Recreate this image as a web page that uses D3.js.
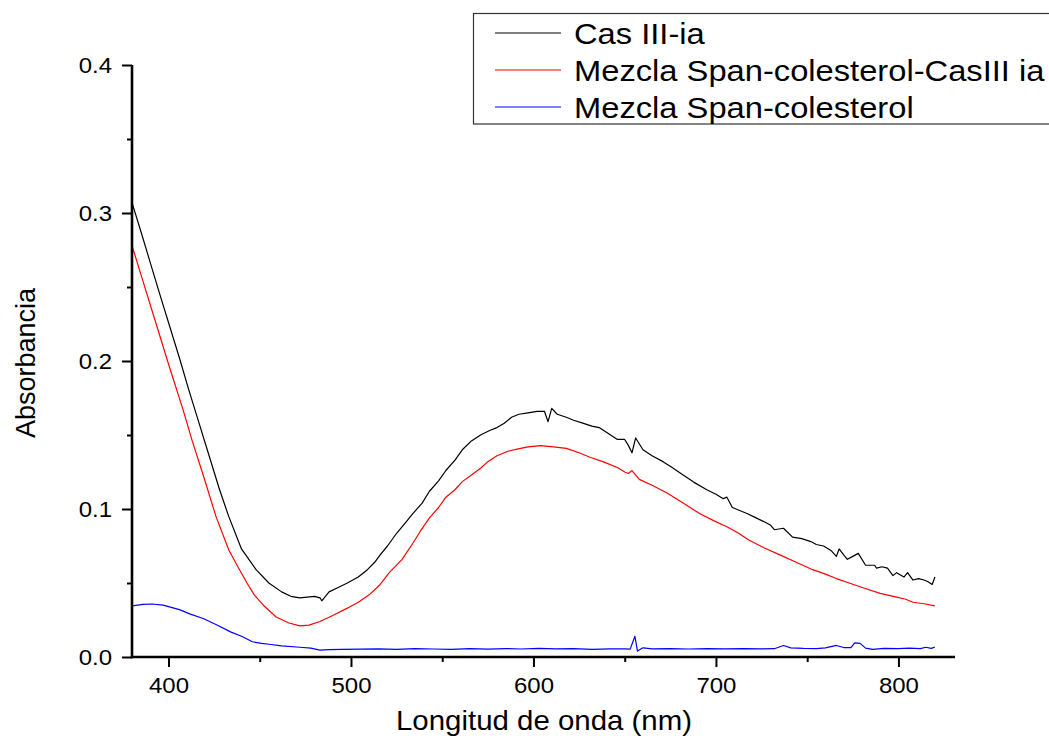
<!DOCTYPE html>
<html>
<head>
<meta charset="utf-8">
<script src="https://cdn.jsdelivr.net/npm/d3@7"></script>
<style>
  html, body { margin: 0; padding: 0; background: #fff; }
  svg { display: block; font-family: "Liberation Sans", Arial, sans-serif; }
</style>
</head>
<body>
<svg id="chart" width="1049" height="740"></svg>
<script>
// ---- Data ----
const seriesNames = ["Cas III-ia", "Mezcla Span-colesterol-CasIII ia", "Mezcla Span-colesterol"];
const seriesColors = ["#000000", "#ff0000", "#0000ff"];

const casWl = [380,385,390,395,400,406,411,417,422,428,433,440,448,455,462,467,472,476,480,483,484,486,488,493,498,504,509,513,516,520,525,530,534,539,543,548,552,557,561,566,571,576,580,584,588,592,597,602,606,608,610,613,618,622,627,632,636,641,646,650,652,654,656,660,665,671,676,682,688,695,700,704,706,709,713,717,722,727,730,732,737,742,747,752,755,759,763,766,767.5,770,772,775,778,782,787,788,791,794,797,799,803,805,808,811,814,816,818.5,820];
const casAbs = [0.307,0.287,0.2665,0.246,0.226,0.202,0.181,0.157,0.137,0.113,0.095,0.073,0.059,0.050,0.044,0.041,0.040,0.0405,0.041,0.040,0.038,0.041,0.044,0.047,0.050,0.054,0.059,0.064,0.069,0.075,0.0836,0.091,0.097,0.104,0.112,0.119,0.126,0.133,0.140,0.146,0.150,0.153,0.155,0.158,0.162,0.164,0.165,0.166,0.166,0.159,0.168,0.164,0.162,0.160,0.158,0.156,0.155,0.151,0.147,0.147,0.143,0.138,0.148,0.140,0.136,0.132,0.128,0.123,0.118,0.113,0.110,0.107,0.108,0.101,0.099,0.097,0.094,0.091,0.089,0.086,0.087,0.081,0.080,0.078,0.076,0.075,0.072,0.068,0.073,0.069,0.066,0.068,0.070,0.062,0.062,0.060,0.061,0.060,0.055,0.057,0.054,0.057,0.052,0.053,0.052,0.051,0.049,0.054];

const mixWl = [380,386,393,400,408,413,419,426,433,438,443,447,452,459,466,472,477,483,490,498,504,510,516,521,528,534,538,543,548,552,557,561,566,571,575,580,586,591,597,604,611,618,625,631,638,646,650,652,654,658,665,673,682,691,699,706,712,718,726,735,744,753,760,766,773,781,790,799,804,808,814,820];
const mixAbs = [0.278,0.254,0.226,0.198,0.167,0.146,0.123,0.095,0.0725,0.061,0.050,0.042,0.035,0.027,0.023,0.021,0.0215,0.024,0.028,0.033,0.037,0.042,0.049,0.057,0.066,0.077,0.085,0.094,0.101,0.108,0.113,0.1185,0.123,0.1275,0.132,0.136,0.139,0.1405,0.142,0.1428,0.142,0.141,0.138,0.135,0.132,0.128,0.125,0.124,0.126,0.120,0.116,0.111,0.104,0.097,0.092,0.088,0.084,0.079,0.074,0.069,0.064,0.059,0.056,0.053,0.050,0.0466,0.043,0.0405,0.039,0.037,0.036,0.0345];

const spanWl = [380,386,391,397,406,412,419,426,434,440,446,451,455,462,472,478,483,488,495,505,515,525,535,545,555,565,575,585,593,603,612,622,632,642,650,653,655.6,657,660,665,675,685,695,705,715,725,732,737,741,748,755,760,766,770,774,776,779,782,786,792,800,806,812,815,818,820];
const spanAbs = [0.0345,0.0355,0.0358,0.035,0.032,0.029,0.026,0.022,0.017,0.014,0.0103,0.0092,0.0086,0.0075,0.0066,0.006,0.0047,0.005,0.0052,0.0053,0.0055,0.0052,0.0056,0.0054,0.0052,0.0056,0.0053,0.0057,0.0054,0.0058,0.0055,0.0056,0.0052,0.0055,0.0055,0.0053,0.014,0.004,0.0062,0.0055,0.0057,0.0054,0.0056,0.0055,0.0057,0.0055,0.0056,0.0078,0.0062,0.0058,0.0056,0.0062,0.0078,0.0064,0.0064,0.0095,0.0092,0.006,0.0052,0.0058,0.0056,0.006,0.0057,0.0066,0.0058,0.0068];

const xTicks = [400, 500, 600, 700, 800];
const xMinorTicks = [450, 550, 650, 750];
const yTicks = [0.0, 0.1, 0.2, 0.3, 0.4];
const yMinorTicks = [0.05, 0.15, 0.25, 0.35];
const xTitle = "Longitud de onda (nm)";
const yTitle = "Absorbancia";

// ---- Layout ----
const STRETCH = 1.09;
const svg = d3.select("#chart");
const x = d3.scaleLinear().domain([380, 831]).range([132, 955]);
const y = d3.scaleLinear().domain([0, 0.4]).range([657, 65]);

const series = [
  { wl: casWl, abs: casAbs },
  { wl: mixWl, abs: mixAbs },
  { wl: spanWl, abs: spanAbs }
];

const line = d3.line().x(d => x(d[0])).y(d => y(d[1]));

// Data lines
series.forEach((s, i) => {
  const pts = s.wl.map((w, k) => [w, s.abs[k]]);
  svg.append("path")
    .datum(pts)
    .attr("fill", "none")
    .attr("stroke", seriesColors[i])
    .attr("stroke-width", 1.2)
    .attr("stroke-linejoin", "round")
    .attr("d", line);
});

// Axes
function styleAxis(g) {
  g.select(".domain").attr("stroke", "#000").attr("stroke-width", 2.6);
  g.selectAll(".tick line").attr("stroke", "#000").attr("stroke-width", 2);
  g.selectAll(".tick text").attr("fill", "#000").attr("font-size", 22)
    .attr("font-family", "'Liberation Sans', Arial, sans-serif");
}

// Minor ticks first
const gxMinor = svg.append("g").attr("transform", "translate(0,657)")
  .call(d3.axisBottom(x).tickValues(xMinorTicks).tickSize(5).tickFormat(""));
gxMinor.select(".domain").remove();
gxMinor.selectAll(".tick line").attr("stroke", "#000").attr("stroke-width", 2);

const gyMinor = svg.append("g").attr("transform", "translate(132,0)")
  .call(d3.axisLeft(y).tickValues(yMinorTicks).tickSize(5).tickFormat(""));
gyMinor.select(".domain").remove();
gyMinor.selectAll(".tick line").attr("stroke", "#000").attr("stroke-width", 2);

const gx = svg.append("g").attr("transform", "translate(0,657)")
  .call(d3.axisBottom(x).tickValues(xTicks).tickSize(10).tickSizeOuter(0).tickPadding(10).tickFormat(d3.format("d")));
styleAxis(gx);
gx.select(".domain").attr("d", `M${x(380) - 1.3},0H${x(831)}`);
gx.selectAll(".tick text").each(function() {
  const t = d3.select(this);
  t.attr("transform", `translate(0,${+t.attr("y")}) scale(${STRETCH},1)`).attr("y", 0);
});

const gy = svg.append("g").attr("transform", "translate(132,0)")
  .call(d3.axisLeft(y).tickValues(yTicks).tickSize(10).tickSizeOuter(0).tickPadding(10).tickFormat(d3.format(".1f")));
styleAxis(gy);
gy.select(".domain").attr("d", `M0,${y(0.4)}V${y(0) + 1.3}`);
gy.selectAll(".tick text").each(function() {
  const t = d3.select(this);
  t.attr("transform", `translate(${+t.attr("x")},0) scale(${STRETCH},1)`).attr("x", 0);
});

// Axis titles
svg.append("text")
  .attr("transform", `translate(544,730) scale(${STRETCH},1)`)
  .attr("text-anchor", "middle")
  .attr("font-size", 27)
  .attr("fill", "#000")
  .text(xTitle);

svg.append("text")
  .attr("transform", "translate(35,363) rotate(-90)")
  .attr("text-anchor", "middle")
  .attr("font-size", 27)
  .attr("fill", "#000")
  .text(yTitle);

// Legend
const legend = svg.append("g");
legend.append("rect")
  .attr("x", 473.5).attr("y", 13.5)
  .attr("width", 600).attr("height", 110.5)
  .attr("fill", "#fff").attr("stroke", "#333").attr("stroke-width", 1.2);

const legendRowsY = [33, 70, 107];
seriesNames.forEach((name, i) => {
  const ly = legendRowsY[i];
  legend.append("line")
    .attr("x1", 495).attr("x2", 561)
    .attr("y1", ly).attr("y2", ly)
    .attr("stroke", seriesColors[i]).attr("stroke-width", 1.2);
  legend.append("text")
    .attr("transform", `translate(574,${ly + 11}) scale(${STRETCH},1)`)
    .attr("font-size", 30)
    .attr("fill", "#000")
    .text(name);
});
</script>
</body>
</html>
